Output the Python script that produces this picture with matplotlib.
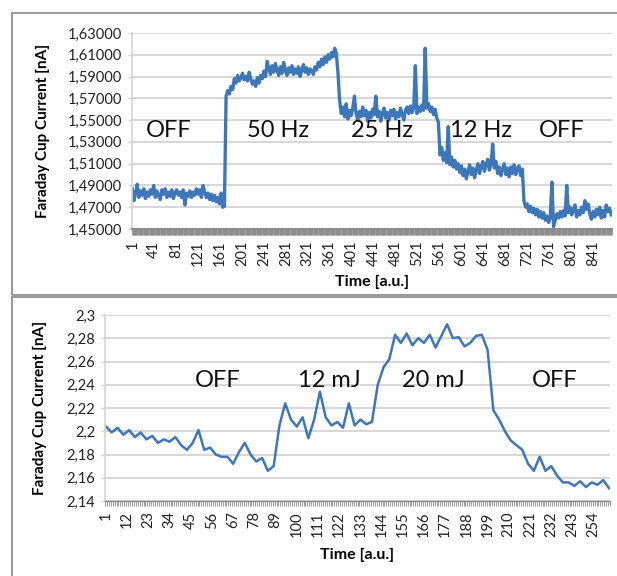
import numpy as np
import matplotlib
matplotlib.use("Agg")
import matplotlib.pyplot as plt
from matplotlib.patches import Rectangle

plt.rcParams['font.family'] = ['Lato', 'DejaVu Sans']

# --- data: top run (pulse frequency), one reading every 3 time units ---
top_step = 3
top_current = [
    1.487, 1.476, 1.483, 1.491, 1.479, 1.485, 1.481, 1.487, 1.478, 1.484,
    1.480, 1.486, 1.482, 1.490, 1.479, 1.485, 1.481, 1.477, 1.486, 1.482,
    1.487, 1.479, 1.484, 1.480, 1.486, 1.478, 1.483, 1.486, 1.481, 1.484,
    1.479, 1.486, 1.472, 1.483, 1.480, 1.485, 1.479, 1.484, 1.481, 1.487,
    1.482, 1.486, 1.479, 1.490, 1.484, 1.479, 1.483, 1.477, 1.482, 1.476,
    1.481, 1.475, 1.479, 1.473, 1.483, 1.470, 1.471, 1.572, 1.577, 1.574,
    1.581, 1.578, 1.588, 1.584, 1.591, 1.586, 1.589, 1.593, 1.587, 1.590,
    1.586, 1.594, 1.588, 1.583, 1.586, 1.581, 1.589, 1.584, 1.591, 1.588,
    1.595, 1.590, 1.604, 1.597, 1.592, 1.600, 1.594, 1.602, 1.596, 1.591,
    1.599, 1.593, 1.603, 1.596, 1.591, 1.598, 1.594, 1.600, 1.592, 1.597,
    1.593, 1.599, 1.590, 1.596, 1.601, 1.594, 1.598, 1.592, 1.597, 1.595,
    1.592, 1.599, 1.596, 1.603, 1.599, 1.606, 1.601, 1.608, 1.603, 1.610,
    1.606, 1.612, 1.608, 1.616, 1.611, 1.593, 1.568, 1.556, 1.562, 1.553,
    1.565, 1.551, 1.559, 1.554, 1.561, 1.572, 1.556, 1.550, 1.558, 1.553,
    1.562, 1.554, 1.559, 1.549, 1.557, 1.552, 1.560, 1.555, 1.572, 1.553,
    1.558, 1.549, 1.556, 1.561, 1.552, 1.557, 1.550, 1.559, 1.554, 1.560,
    1.551, 1.557, 1.553, 1.561, 1.555, 1.550, 1.559, 1.562, 1.556, 1.563,
    1.557, 1.561, 1.600, 1.556, 1.562, 1.558, 1.564, 1.559, 1.616, 1.561,
    1.565, 1.558, 1.562, 1.555, 1.560, 1.552, 1.548, 1.518, 1.525, 1.513,
    1.520, 1.511, 1.544, 1.509, 1.516, 1.507, 1.513, 1.505, 1.510, 1.502,
    1.508, 1.499, 1.505, 1.496, 1.503, 1.509, 1.500, 1.506, 1.497, 1.504,
    1.510, 1.501, 1.507, 1.512, 1.503, 1.509, 1.514, 1.504, 1.510, 1.528,
    1.506, 1.512, 1.501, 1.507, 1.499, 1.505, 1.510, 1.500, 1.506, 1.498,
    1.507, 1.501, 1.509, 1.500, 1.506, 1.508, 1.499, 1.505, 1.476, 1.470,
    1.473, 1.466, 1.471, 1.465, 1.469, 1.463, 1.468, 1.461, 1.466, 1.460,
    1.465, 1.458, 1.462, 1.456, 1.461, 1.493, 1.452, 1.458, 1.464, 1.460,
    1.466, 1.461, 1.467, 1.462, 1.490, 1.465, 1.470, 1.463, 1.468, 1.472,
    1.461, 1.467, 1.463, 1.470, 1.465, 1.476, 1.468, 1.473, 1.464, 1.459,
    1.466, 1.461, 1.468, 1.463, 1.470, 1.460, 1.467, 1.461, 1.472, 1.466,
    1.469, 1.463,
]
top_n = 875
top_yticks = [1.45, 1.47, 1.49, 1.51, 1.53, 1.55, 1.57, 1.59, 1.61, 1.63]
top_xlabels = list(range(1, 842, 40))
top_phases = ["OFF", "50 Hz", "25 Hz", "12 Hz", "OFF"]
top_phase_x = [67, 266, 456, 636, 783]

# --- data: bottom run (pulse energy), one reading every 3 time units ---
bot_step = 3
bot_current = [
    2.204, 2.199, 2.203, 2.197, 2.201, 2.195, 2.199, 2.193, 2.196, 2.190,
    2.193, 2.191, 2.195, 2.188, 2.184, 2.190, 2.201, 2.184, 2.186, 2.180,
    2.178, 2.178, 2.172, 2.182, 2.190, 2.180, 2.174, 2.177, 2.166, 2.170,
    2.205, 2.224, 2.210, 2.204, 2.212, 2.194, 2.210, 2.234, 2.212, 2.205,
    2.208, 2.203, 2.224, 2.205, 2.210, 2.206, 2.208, 2.240, 2.255, 2.262,
    2.283, 2.276, 2.284, 2.274, 2.280, 2.276, 2.283, 2.272, 2.282, 2.292,
    2.280, 2.281, 2.273, 2.276, 2.282, 2.283, 2.270, 2.218, 2.210, 2.200,
    2.192, 2.188, 2.184, 2.172, 2.166, 2.178, 2.166, 2.170, 2.162, 2.156,
    2.156, 2.153, 2.157, 2.152, 2.156, 2.154, 2.158, 2.151,
]
bot_n = 262
bot_yticks = [2.14, 2.16, 2.18, 2.2, 2.22, 2.24, 2.26, 2.28, 2.3]
bot_xlabels = list(range(1, 255, 11))
bot_phases = ["OFF", "12 mJ", "20 mJ", "OFF"]
bot_phase_x = [59, 117, 171, 234]

line_col = "#3d77ba"
grid_col = "#d4d4d4"

W, H = 617, 576
fig = plt.figure(figsize=(W / 100, H / 100), dpi=100)

# panel frames
for (x0, y0, x1, y1) in [(12, 13, 660, 295), (12, 297, 660, 620)]:
    fig.add_artist(Rectangle((x0 / W, 1 - y1 / H), (x1 - x0) / W, (y1 - y0) / H,
                             transform=fig.transFigure, fill=False,
                             edgecolor="#9a9a9a", linewidth=1.5, clip_on=False))


def excel_num(v, fixed=None):
    if fixed:
        s = f"{v:.{fixed}f}"
    else:
        s = f"{v:.2f}".rstrip("0").rstrip(".")
    return s.replace(".", ",")


def style_axis(ax, n, yticks, xlabels, fixed, tick_len, lw, xpad):
    ax.set_xlim(0.5, n + 0.5)
    ax.set_ylim(yticks[0], yticks[-1])
    ax.set_yticks(yticks)
    ax.set_yticklabels([excel_num(v, fixed) for v in yticks])
    ax.set_xticks(xlabels)
    ax.set_xticklabels([str(v) for v in xlabels], rotation=90)
    ax.set_xticks(np.arange(0.5, n + 1, 1), minor=True)
    ax.grid(axis="y", color=grid_col, linewidth=1.3)
    ax.set_axisbelow(True)
    for s in ["top", "right"]:
        ax.spines[s].set_visible(False)
    ax.spines["left"].set_color(grid_col)
    ax.spines["left"].set_linewidth(1.2)
    ax.spines["bottom"].set_color("#8c8c8c")
    ax.spines["bottom"].set_linewidth(lw)
    ax.tick_params(axis="y", length=3, width=1, color=grid_col, pad=4,
                   labelsize=10.5, labelcolor="#222222")
    ax.tick_params(axis="x", which="major", length=0, pad=tick_len + 4,
                   labelsize=10.5, labelcolor="#222222")
    ax.tick_params(axis="x", which="minor", length=tick_len, width=0.6,
                   color="#8c8c8c", direction="out")
    ax.set_xlabel("Time [a.u.]", fontsize=11.5, fontweight="bold", labelpad=xpad)
    ax.set_ylabel("Faraday Cup Current [nA]", fontsize=11, fontweight="bold")


# top chart
ax1 = fig.add_axes([132 / W, 1 - 229 / H, 480 / W, 196 / H])
x_top = np.arange(1, 1 + top_step * len(top_current), top_step)
ax1.plot(x_top, top_current, color=line_col, linewidth=2.4)
style_axis(ax1, top_n, top_yticks, top_xlabels, 5, 4.5, 1.5, 6)
ax1.yaxis.set_label_coords(-0.17, 0.5)
for lab, xp in zip(top_phases, top_phase_x):
    ax1.text(xp, 1.540, lab, fontsize=17, ha="center", va="center", color="#111111")

# bottom chart
ax2 = fig.add_axes([105 / W, 1 - 501 / H, 505 / W, 186 / H])
x_bot = np.arange(1, 1 + bot_step * len(bot_current), bot_step)
ax2.plot(x_bot, bot_current, color=line_col, linewidth=1.8)
style_axis(ax2, bot_n, bot_yticks, bot_xlabels, None, 3.5, 1.0, 8)
ax2.yaxis.set_label_coords(-0.115, 0.5)
for lab, xp in zip(bot_phases, bot_phase_x):
    ax2.text(xp, 2.244, lab, fontsize=17, ha="center", va="center", color="#111111")

fig.savefig("out.png", dpi=100)
